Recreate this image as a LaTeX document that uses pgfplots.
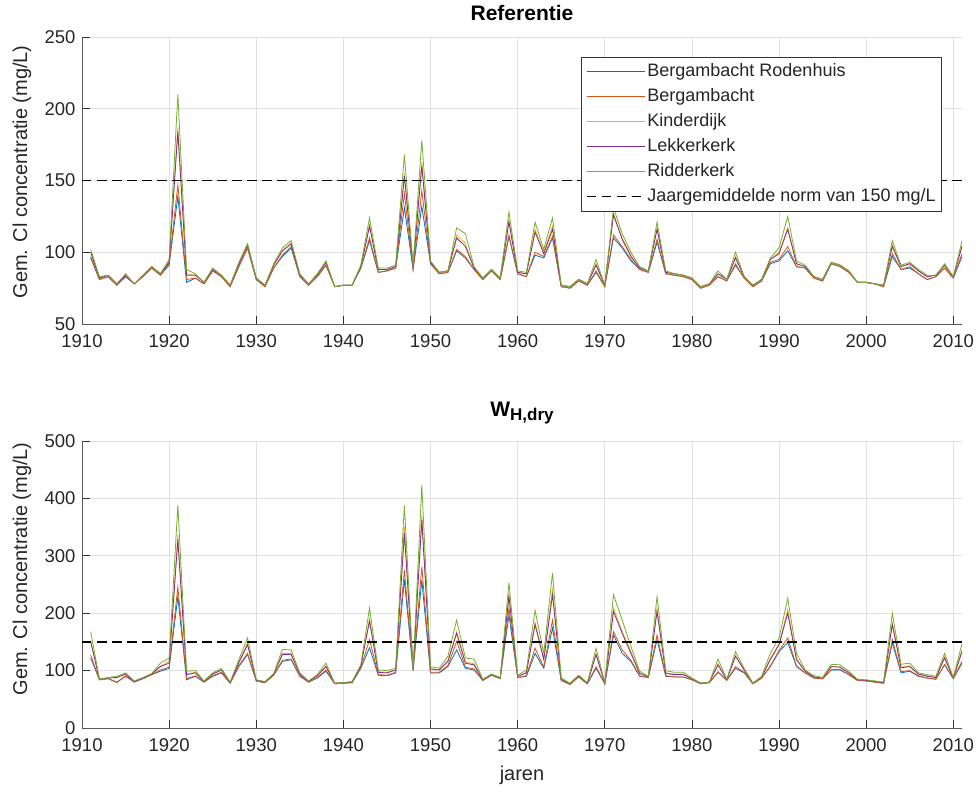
\documentclass[border=0pt]{standalone}
\usepackage{fontspec}
\setmainfont{Liberation Sans}
\usepackage{pgfplots}
\usepackage{pgfplotstable}
\pgfplotsset{compat=1.18}

\definecolor{mblue}{RGB}{0,114,189}
\definecolor{mred}{RGB}{217,83,25}
\definecolor{myellow}{RGB}{237,177,32}
\definecolor{mpurple}{RGB}{126,47,142}
\definecolor{mgreen}{RGB}{119,172,48}
\definecolor{mtext}{RGB}{38,38,38}

% columns: yr, Bergambacht Rodenhuis, Bergambacht, Kinderdijk, Lekkerkerk, Ridderkerk
\pgfplotstableread{
yr B R Y P G
1911 96 97 100 100 102
1912 81 81 82 82 83
1913 83 83 84 84 84
1914 77 77 78 78 78
1915 83 83 84 84 85
1916 78 78 78 78 78
1917 83 83 84 84 84
1918 89 89 90 90 90
1919 84 84 85 85 85
1920 91 92 94 93 95
1921 139 147 187 184 210
1922 79 81 85 84 88
1923 82 82 84 84 85
1924 78 78 79 79 79
1925 87 87 88 88 89
1926 83 83 84 84 84
1927 76 76 77 77 77
1928 90 90 92 92 93
1929 103 103 105 105 106
1930 81 81 82 82 82
1931 76 76 77 77 77
1932 89 89 91 91 92
1933 97 98 101 101 103
1934 103 104 106 106 108
1935 83 83 84 84 85
1936 77 77 78 78 78
1937 83 83 84 84 85
1938 91 91 93 93 94
1939 76 76 76 76 76
1940 77 77 77 77 77
1941 77 77 77 77 77
1942 89 89 90 90 91
1943 108 110 119 118 124
1944 86 86 88 88 89
1945 87 87 88 88 89
1946 89 89 90 90 91
1947 131 141 155 153 168
1948 88 88 90 90 91
1949 132 143 163 160 178
1950 92 92 93 93 94
1951 85 85 86 86 86
1952 86 86 87 87 87
1953 101 102 112 110 117
1954 96 97 106 104 113
1955 88 88 89 89 90
1956 81 81 82 82 82
1957 87 87 88 88 88
1958 81 81 82 82 82
1959 111 112 122 121 128
1960 85 85 86 86 87
1961 83 83 85 85 86
1962 98 100 116 114 121
1963 96 97 100 99 102
1964 110 111 118 116 124
1965 76 76 77 77 77
1966 75 75 76 76 76
1967 80 80 81 81 81
1968 77 77 78 78 78
1969 86 87 92 91 95
1970 76 76 77 77 77
1971 110 112 127 126 131
1972 103 104 110 109 113
1973 94 95 98 97 100
1974 88 88 89 89 90
1975 86 86 87 87 87
1976 107 109 117 116 121
1977 85 85 86 86 87
1978 84 84 85 85 85
1979 83 83 84 84 84
1980 81 81 82 82 82
1981 75 75 76 76 76
1982 77 77 78 78 78
1983 83 83 85 85 87
1984 80 80 81 81 81
1985 91 92 97 96 100
1986 82 82 83 83 83
1987 76 76 77 77 77
1988 80 80 81 81 81
1989 92 93 95 95 96
1990 94 95 100 99 103
1991 101 104 117 116 125
1992 90 90 92 92 94
1993 89 89 90 90 91
1994 82 82 83 83 83
1995 80 80 81 81 81
1996 92 92 93 93 93
1997 90 90 91 91 91
1998 86 86 87 87 87
1999 79 79 79 79 79
2000 79 79 79 79 79
2001 78 78 78 78 78
2002 76 76 77 77 77
2003 97 99 105 104 108
2004 88 88 90 90 91
2005 89 90 92 92 93
2006 85 85 87 87 88
2007 81 81 83 83 84
2008 83 83 84 84 84
2009 89 89 91 91 92
2010 82 82 83 83 83
2011 97 99 105 104 108
}\tableref

\pgfplotstableread{
yr B R Y P G
1911 122 127 152 150 168
1912 84 84 85 85 85
1913 86 86 87 87 88
1914 80 79 88 88 90
1915 90 91 94 94 96
1916 80 80 81 81 82
1917 86 86 87 87 88
1918 93 93 94 94 95
1919 99 101 108 107 113
1920 104 106 116 113 122
1921 229 246 336 328 388
1922 84 86 94 93 99
1923 90 91 97 96 100
1924 80 80 81 81 82
1925 90 91 94 94 96
1926 96 97 101 101 104
1927 78 78 79 79 80
1928 107 109 115 114 119
1929 128 130 148 145 157
1930 82 82 83 83 84
1931 79 79 80 80 81
1932 92 92 94 94 95
1933 116 118 130 128 137
1934 119 120 130 128 136
1935 90 91 94 94 96
1936 80 80 81 81 82
1937 87 88 91 91 93
1938 99 101 108 107 113
1939 77 77 78 78 78
1940 78 78 79 79 79
1941 79 79 80 80 81
1942 104 105 108 108 110
1943 140 154 190 186 209
1944 92 93 98 97 101
1945 91 92 97 96 100
1946 96 97 101 101 104
1947 258 275 351 339 388
1948 100 100 102 102 104
1949 258 281 371 362 423
1950 96 97 103 103 107
1951 96 97 101 101 104
1952 107 109 118 116 125
1953 136 151 168 165 188
1954 104 106 115 113 122
1955 101 103 112 110 120
1956 83 83 84 84 85
1957 92 92 93 93 94
1958 86 86 87 87 88
1959 197 209 232 229 253
1960 88 88 90 90 92
1961 90 91 97 96 101
1962 130 139 184 180 205
1963 104 106 121 119 130
1964 174 188 241 232 270
1965 83 83 85 85 87
1966 76 76 77 77 78
1967 89 89 91 91 92
1968 77 77 78 78 79
1969 104 107 129 128 139
1970 77 77 78 78 79
1971 162 168 209 203 232
1972 130 136 168 165 188
1973 116 118 133 130 142
1974 90 91 96 95 99
1975 88 88 89 89 90
1976 154 162 208 203 229
1977 90 91 96 95 100
1978 89 89 94 93 97
1979 89 89 94 93 97
1980 84 84 86 86 87
1981 77 77 78 78 78
1982 79 79 80 80 80
1983 97 98 112 110 120
1984 83 83 84 84 85
1985 104 107 126 125 133
1986 96 97 101 101 104
1987 77 77 78 78 78
1988 87 87 89 89 90
1989 107 108 121 119 130
1990 133 135 147 145 157
1991 149 157 206 200 226
1992 107 108 121 119 130
1993 96 96 99 99 101
1994 87 87 89 89 91
1995 86 86 87 87 88
1996 101 102 107 107 111
1997 101 102 106 106 110
1998 93 93 96 96 99
1999 83 83 84 84 85
2000 82 82 83 83 84
2001 80 80 81 81 82
2002 78 78 79 79 80
2003 148 154 183 180 200
2004 96 98 106 105 111
2005 99 100 108 107 113
2006 90 91 94 94 96
2007 87 87 91 90 93
2008 85 85 88 88 90
2009 110 111 124 122 130
2010 86 86 87 87 88
2011 113 116 136 133 147
}\tabledry

\pgfplotsset{
  mstyle/.style={
    scale only axis, width=880pt, height=287pt,
    xmin=1910, xmax=2011,
    xtick={1910,1920,...,2010},
    axis x line*=bottom, axis y line*=left,
    grid=major, grid style={black!12, line width=0.7pt},
    tick align=inside, major tick length=8pt,
    axis line style={draw=black!65, line width=0.8pt},
    major tick style={draw=black!80, line width=0.8pt},
    ticklabel style={font=\fontsize{18.5}{22}\selectfont, text=mtext},
    /pgf/number format/assume math mode=true,
    /pgf/number format/1000 sep={},
    xticklabel style={yshift=-7pt},
    yticklabel style={xshift=-3pt},
    label style={font=\fontsize{20}{24}\selectfont, text=mtext},
    ylabel style={at={(axis description cs:-0.06818,#1)}, anchor=center},
    ylabel={Gem. Cl concentratie (mg/L)},
    every axis plot/.append style={line width=0.8pt},
    legend image code/.code={\draw[##1] (0pt,0pt) -- (58pt,0pt);},
  },
}

\begin{document}
\begin{tikzpicture}
\path[use as bounding box] (-82pt,37pt) rectangle (894pt,-755pt);

\begin{axis}[mstyle=0.53,
  at={(0pt,0pt)}, anchor=north west,
  ymin=50, ymax=250, ytick={50,100,...,250},
  title={Referentie},
  title style={font=\bfseries\fontsize{21}{24}\selectfont, at={(axis description cs:0.5,1)}, anchor=base, yshift=10pt},
  legend style={at={(1,1)}, anchor=north east, xshift=-20pt, yshift=-20pt,
    draw=black!80, line width=0.8pt, fill=white,
    font=\fontsize{18}{21}\selectfont, text=mtext,
    inner xsep=4pt, inner ysep=4pt, row sep=4.5pt,
    nodes={inner sep=2pt, text height=13pt, text depth=3.5pt},
    legend cell align=left},
]
\addplot[mblue] table[x=yr, y=B] {\tableref};
\addlegendentry{Bergambacht Rodenhuis}
\addplot[mred] table[x=yr, y=R] {\tableref};
\addlegendentry{Bergambacht}
\addplot[myellow] table[x=yr, y=Y] {\tableref};
\addlegendentry{Kinderdijk}
\addplot[mpurple] table[x=yr, y=P] {\tableref};
\addlegendentry{Lekkerkerk}
\addplot[mgreen] table[x=yr, y=G] {\tableref};
\addlegendentry{Ridderkerk}
\addplot[black, line width=1.6pt, dash pattern=on 9.5pt off 5.5pt] coordinates {(1910,150) (2011,150)};
\addlegendentry{Jaargemiddelde norm van 150 mg/L}
\end{axis}

\begin{axis}[mstyle=0.554,
  at={(0pt,-404pt)}, anchor=north west,
  ymin=0, ymax=500, ytick={0,100,...,500},
  title={W\raisebox{-0.45ex}{\fontsize{17}{20}\selectfont H,dry}},
  title style={font=\bfseries\fontsize{21}{24}\selectfont, at={(axis description cs:0.5,1)}, anchor=base, yshift=19pt},
  xlabel={jaren},
  xlabel style={at={(axis description cs:0.5,0)}, anchor=center, yshift=-47pt},
]
\addplot[mblue] table[x=yr, y=B] {\tabledry};
\addplot[mred] table[x=yr, y=R] {\tabledry};
\addplot[myellow] table[x=yr, y=Y] {\tabledry};
\addplot[mpurple] table[x=yr, y=P] {\tabledry};
\addplot[mgreen] table[x=yr, y=G] {\tabledry};
\addplot[black, line width=1.6pt, dash pattern=on 9.5pt off 5.5pt] coordinates {(1910,150) (2011,150)};
\end{axis}
\end{tikzpicture}
\end{document}
